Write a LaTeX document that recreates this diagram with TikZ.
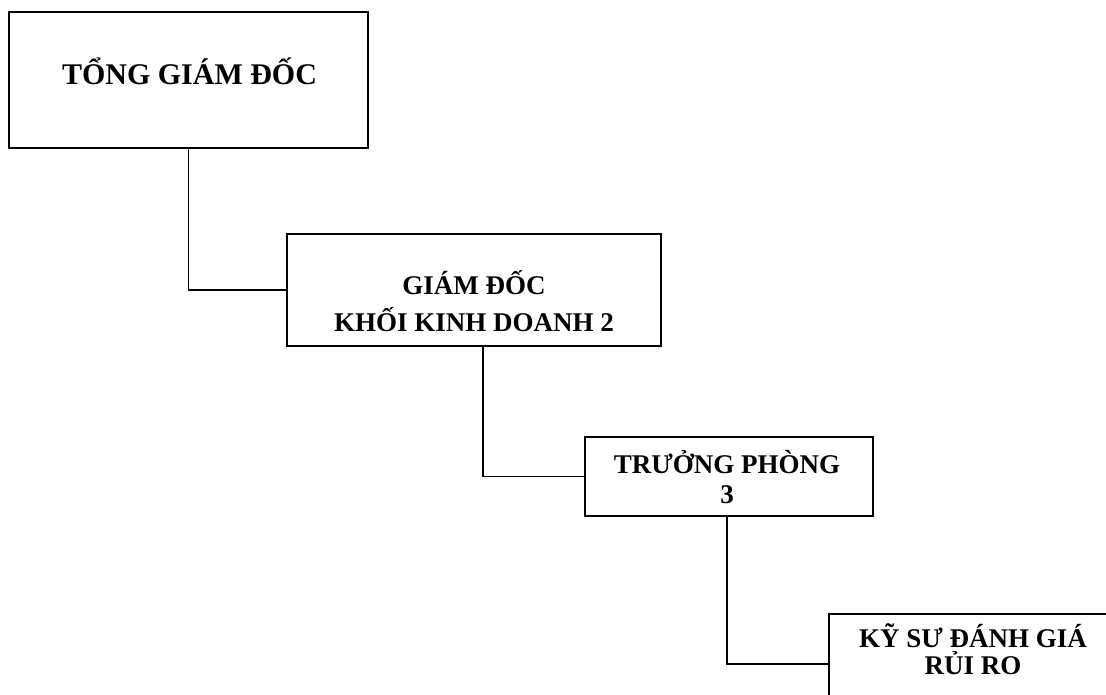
\documentclass[tikz,border=0pt]{standalone}
\usepackage{fontspec}
\setmainfont{Liberation Serif}
\begin{document}
\begin{tikzpicture}[x=1pt,y=-1pt,
  box/.style={draw=black,line width=1.8pt,rectangle,inner sep=0pt},
  lbl/.style={anchor=base,inner sep=0pt,font=\bfseries\fontsize{27}{30}\selectfont},
  biglbl/.style={anchor=base,inner sep=0pt,font=\bfseries\fontsize{30}{33}\selectfont},
  conn/.style={draw=black,line width=1.5pt}]
\useasboundingbox (0,0) rectangle (1106,694);
% boxes
\node[box,minimum width=359pt,minimum height=136pt] (b1) at (188.5,80) {};
\node[box,minimum width=374pt,minimum height=112pt] (b2) at (474,290) {};
\node[box,minimum width=288pt,minimum height=79pt] (b3) at (729,476.5) {};
\node[box,minimum width=288pt,minimum height=100pt] (b4) at (973,664) {};
% texts
\node[biglbl] (t1) at (189.5,84) {TỔNG GIÁM ĐỐC};
\node[lbl] (t2a) at (474,294) {GIÁM ĐỐC};
\node[lbl] (t2b) at (474,331) {KHỐI KINH DOANH 2};
\node[lbl] (t3a) at (727,473) {TRƯỞNG PHÒNG};
\node[lbl] (t3b) at (727,503) {3};
\node[lbl] (t4a) at (973,647) {KỸ SƯ ĐÁNH GIÁ};
\node[lbl] (t4b) at (973,674) {RỦI RO};
% connectors
\draw[conn] (b1.south) -- (b1.south |- b2.west) -- (b2.west);
\draw[conn] ([xshift=9pt]b2.south) -- ([xshift=9pt]b2.south |- b3.west) -- (b3.west);
\draw[conn] ([xshift=-2pt]b3.south) -- ([xshift=-2pt]b3.south |- b4.west) -- (b4.west);
\end{tikzpicture}
\end{document}
